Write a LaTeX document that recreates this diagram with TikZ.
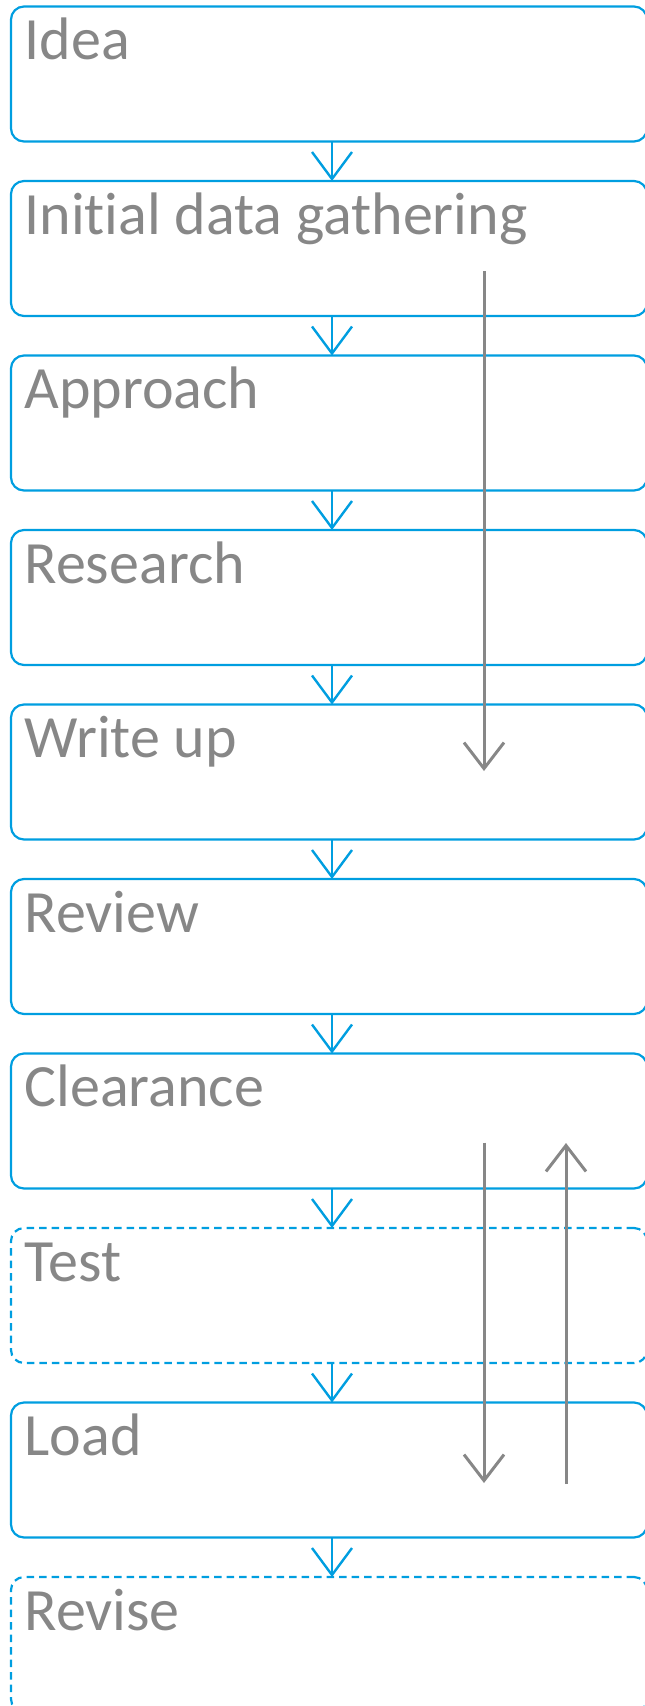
\documentclass[tikz,border=0pt]{standalone}
\usepackage{fontspec}
\setmainfont{Carlito}[Ligatures={NoCommon}]
\usetikzlibrary{arrows.meta}
\definecolor{boxblue}{RGB}{0,158,224}
\definecolor{flowgray}{RGB}{135,135,135}
\begin{document}
\begin{tikzpicture}[x=1pt,y=1pt,
  stage/.style={draw=boxblue, line width=2.2pt, rounded corners=13pt, minimum width=636pt, minimum height=135pt, inner sep=0pt, outer sep=0pt, anchor=north west},
  optstage/.style={stage, dash pattern=on 7.5pt off 5pt},
  stagelabel/.style={anchor=base west, inner sep=0pt, outer sep=0pt, text=flowgray, font=\fontsize{60}{60}\selectfont},
  flow/.style={draw=boxblue, line width=2.4pt, -{Straight Barb[length=27pt,width=40pt]}},
  back/.style={draw=flowgray, line width=3pt, -{Straight Barb[length=26pt,width=40pt]}},
]
\clip (0,0) rectangle (645,-1706);
\foreach \i/\t/\s in {1/Idea/stage, 2/Initial data gathering/stage, 3/Approach/stage, 4/Research/stage, 5/Write up/stage, 6/Review/stage, 7/Clearance/stage, 8/Test/optstage, 9/Load/stage, 10/Revise/optstage} {
  \node[\s] (b\i) at (11, {-6.5-(\i-1)*174.5}) {};
  \node[stagelabel] (t\i) at ([shift={(13.5,-53)}]b\i.north west) {\t};
}
\foreach \i [evaluate=\i as \j using int(\i+1)] in {1,...,9} {
  \draw[flow] ([xshift=3pt]b\i.south) -- ([xshift=3pt]b\j.north);
}
\coordinate (g1s) at (484,-271);
\coordinate (g1e) at (484,-771);
\coordinate (g2s) at (484,-1142.5);
\coordinate (g2e) at (484,-1483);
\coordinate (g3s) at (566,-1484);
\coordinate (g3e) at (566,-1143);
\draw[back] (g1s) -- (g1e);
\draw[back] (g2s) -- (g2e);
\draw[back] (g3s) -- (g3e);
\end{tikzpicture}
\end{document}
